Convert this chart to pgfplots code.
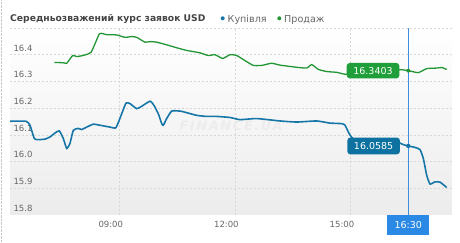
\documentclass[border=0pt]{standalone}
\usepackage{fontspec}
\setmainfont{DejaVu Sans}
\usepackage{pgfplots}
\pgfplotsset{compat=1.18}
\definecolor{gline}{RGB}{34,150,52}
\definecolor{bline}{RGB}{22,118,168}
\definecolor{gbox}{RGB}{31,158,58}
\definecolor{bbox}{RGB}{14,114,160}
\definecolor{xbox}{RGB}{42,137,228}
\definecolor{vline}{RGB}{60,143,224}
\definecolor{titlec}{RGB}{68,68,68}
\definecolor{tickc}{RGB}{102,102,102}
\definecolor{gridc}{RGB}{215,215,215}
\definecolor{bgbot}{RGB}{236,236,236}
\begin{document}
\begin{tikzpicture}
\useasboundingbox (0pt,0pt) rectangle (460pt,243pt);
\draw[densely dotted, gray!45] (1pt,0pt) -- (1pt,243pt);
\begin{axis}[
  at={(10pt,28pt)}, anchor=south west, scale only axis,
  width=441.7pt, height=187pt,
  xmin=6.163, xmax=17.627, ymin=15.8, ymax=16.5,
  clip=false,
  axis line style={draw=none},
  tick style={draw=none},
  axis background/.style={shade, top color=white, middle color=white, bottom color=bgbot},
  xtick={9,12,15}, xticklabels={09:00,12:00,15:00},
  ytick={15.9,16,16.1,16.2,16.3,16.4,16.5},
  yticklabels={15.9,16.0,16.1,16.2,16.3,16.4,{}},
  extra y ticks={15.8}, extra y tick labels={15.8},
  extra y tick style={grid=none},
  grid=major,
  grid style={gridc, dash pattern=on 2pt off 2pt, line width=0.7pt},
  yticklabel style={anchor=south west, text=tickc, font=\fontsize{8.5}{9}\selectfont},
  xticklabel style={text=tickc, font=\fontsize{8.5}{9}\selectfont, xshift=-8.5pt, yshift=-2.5pt},
]
\node[text=gray!15, font=\itshape\bfseries\fontsize{13}{13}\selectfont] at (axis cs:11.9,16.135) {\addfontfeature{LetterSpace=12}FINANCE.UA};
\addplot[gline, line width=1.3pt, smooth, tension=0.3] coordinates {
(7.313,16.371)(7.547,16.370)(7.635,16.368)(7.791,16.397)(7.894,16.393)(8.024,16.396)(8.154,16.401)(8.266,16.409)(8.369,16.441)(8.481,16.478)(8.543,16.480)(8.673,16.475)(8.933,16.474)(9.148,16.465)(9.322,16.468)(9.452,16.465)(9.667,16.447)(9.797,16.449)(9.971,16.447)(10.230,16.437)(10.490,16.426)(10.749,16.416)(11.094,16.407)(11.310,16.397)(11.484,16.400)(11.684,16.386)(11.873,16.400)(12.047,16.397)(12.262,16.378)(12.478,16.360)(12.696,16.360)(12.955,16.368)(13.171,16.361)(13.604,16.353)(13.864,16.350)(13.994,16.363)(14.165,16.345)(14.383,16.337)(14.642,16.334)(14.858,16.327)(15.247,16.330)(15.766,16.334)(16.233,16.343)(16.32,16.344)(16.50,16.3403)(16.76,16.333)(16.98,16.348)(17.238,16.350)(17.37,16.352)(17.497,16.345)
};
\addplot[bline, line width=1.6pt, smooth, tension=0.3] coordinates {
(6.163,16.151)(6.579,16.151)(6.682,16.136)(6.794,16.086)(6.898,16.082)(7.072,16.084)(7.201,16.092)(7.331,16.107)(7.443,16.115)(7.547,16.086)(7.635,16.049)(7.720,16.068)(7.806,16.117)(7.936,16.124)(8.024,16.120)(8.154,16.129)(8.325,16.140)(8.499,16.136)(8.759,16.129)(8.914,16.127)(9.062,16.179)(9.174,16.219)(9.278,16.217)(9.452,16.198)(9.581,16.207)(9.797,16.226)(9.901,16.210)(10.012,16.179)(10.100,16.142)(10.142,16.136)(10.230,16.161)(10.360,16.189)(10.575,16.189)(10.749,16.183)(11.009,16.173)(11.268,16.169)(11.528,16.169)(11.873,16.165)(12.133,16.157)(12.566,16.161)(13.171,16.152)(13.604,16.148)(14.123,16.152)(14.468,16.144)(14.772,16.142)(14.858,16.136)(14.943,16.111)(14.987,16.099)(15.117,16.080)(15.506,16.072)(15.896,16.071)(16.259,16.071)(16.30,16.068)(16.40,16.062)(16.50,16.0585)(16.673,16.053)(16.804,16.045)(16.890,16.012)(16.978,15.949)(17.064,15.916)(17.194,15.924)(17.324,15.923)(17.497,15.903)
};
\draw[vline, line width=0.8pt] (axis cs:16.5,15.8) -- (axis cs:16.5,16.5);
\fill[gline] (axis cs:16.5,16.3403) circle (2pt);
\fill[bline] (axis cs:16.5,16.0585) circle (2.2pt);
\node[fill=gbox, rounded corners=3pt, text=white, minimum width=52.6pt, minimum height=15.4pt, inner sep=0, font=\fontsize{9.5}{10}\selectfont] at (axis cs:15.585,16.3403) {16.3403};
\node[fill=bbox, rounded corners=3pt, text=white, minimum width=52.6pt, minimum height=16.7pt, inner sep=0, font=\fontsize{9.5}{10}\selectfont] at (axis cs:15.60,16.0585) {16.0585};
\node[fill=xbox, text=white, anchor=north, minimum width=42pt, minimum height=20pt, inner sep=0, font=\fontsize{9.5}{10}\selectfont] at (axis cs:16.5,15.8) {16:30};
\end{axis}
\node[anchor=base west, inner sep=0, text=titlec, font=\bfseries\fontsize{9.2}{11}\selectfont] at (10pt,221pt) {Середньозважений курс заявок USD};
\fill[bline] (222.7pt,224.7pt) circle (2pt);
\node[anchor=base west, inner sep=0, text=tickc, font=\fontsize{9.6}{11}\selectfont] at (227.5pt,220.8pt) {Купівля};
\fill[gline] (279.3pt,224.7pt) circle (2pt);
\node[anchor=base west, inner sep=0, text=tickc, font=\fontsize{9.6}{11}\selectfont] at (284pt,220.8pt) {Продаж};
\end{tikzpicture}
\end{document}
